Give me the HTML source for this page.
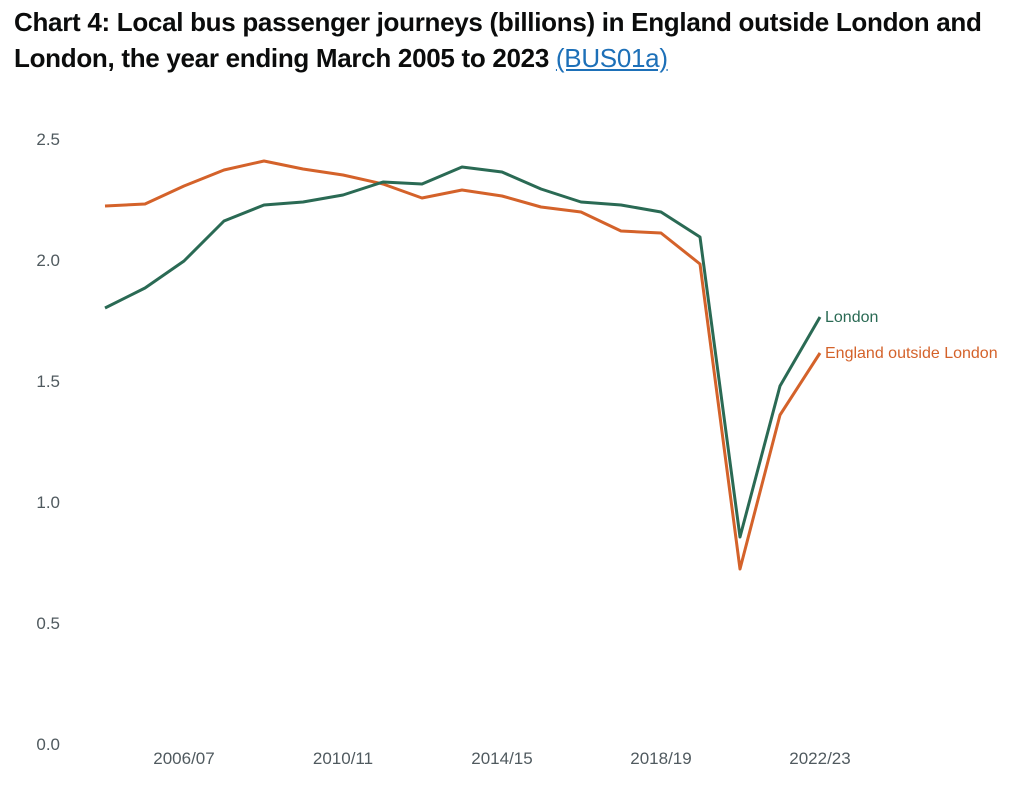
<!DOCTYPE html>
<html><head><meta charset="utf-8"><style>
body{margin:0;background:#fff;width:1024px;height:789px;overflow:hidden;font-family:"Liberation Sans",Arial,sans-serif}
h1{position:absolute;left:14px;top:4px;margin:0;font-size:26px;line-height:36px;font-weight:bold;color:#0b0c0c;width:1000px;letter-spacing:-0.3px}
h1 a{color:#1d70b8;font-weight:normal;text-decoration:underline}
svg{position:absolute;left:0;top:0}
</style></head><body>
<h1>Chart 4: Local bus passenger journeys (billions) in England outside London and London, the year ending March 2005 to 2023 <a>(BUS01a)</a></h1>
<svg width="1024" height="789" font-family="Liberation Sans, Arial, sans-serif">
<g font-size="17" fill="#505a5f">
<text x="60" y="145" text-anchor="end">2.5</text>
<text x="60" y="266" text-anchor="end">2.0</text>
<text x="60" y="387" text-anchor="end">1.5</text>
<text x="60" y="508" text-anchor="end">1.0</text>
<text x="60" y="629" text-anchor="end">0.5</text>
<text x="60" y="750" text-anchor="end">0.0</text>
<text x="184" y="764" text-anchor="middle">2006/07</text>
<text x="343" y="764" text-anchor="middle">2010/11</text>
<text x="502" y="764" text-anchor="middle">2014/15</text>
<text x="661" y="764" text-anchor="middle">2018/19</text>
<text x="820" y="764" text-anchor="middle">2022/23</text>
</g>
<polyline fill="none" stroke="#d4622a" stroke-width="3" stroke-linejoin="round" points="105,206 145,204 184,186 224,170 264,161 303,169 343,175 383,184 422,198 462,190 502,196 541,207 581,212 621,231 661,233 700,264 740,569 780,415 820,353"/>
<polyline fill="none" stroke="#2a6a54" stroke-width="3" stroke-linejoin="round" points="105,308 145,288 184,261 224,221 264,205 303,202 343,195 383,182 422,184 462,167 502,172 541,189 581,202 621,205 661,212 700,237 740,537 780,386 820,317"/>
<text x="825" y="322" font-size="16" fill="#2a6a54">London</text>
<text x="825" y="358" font-size="16" fill="#d4622a">England outside London</text>
</svg>
</body></html>
